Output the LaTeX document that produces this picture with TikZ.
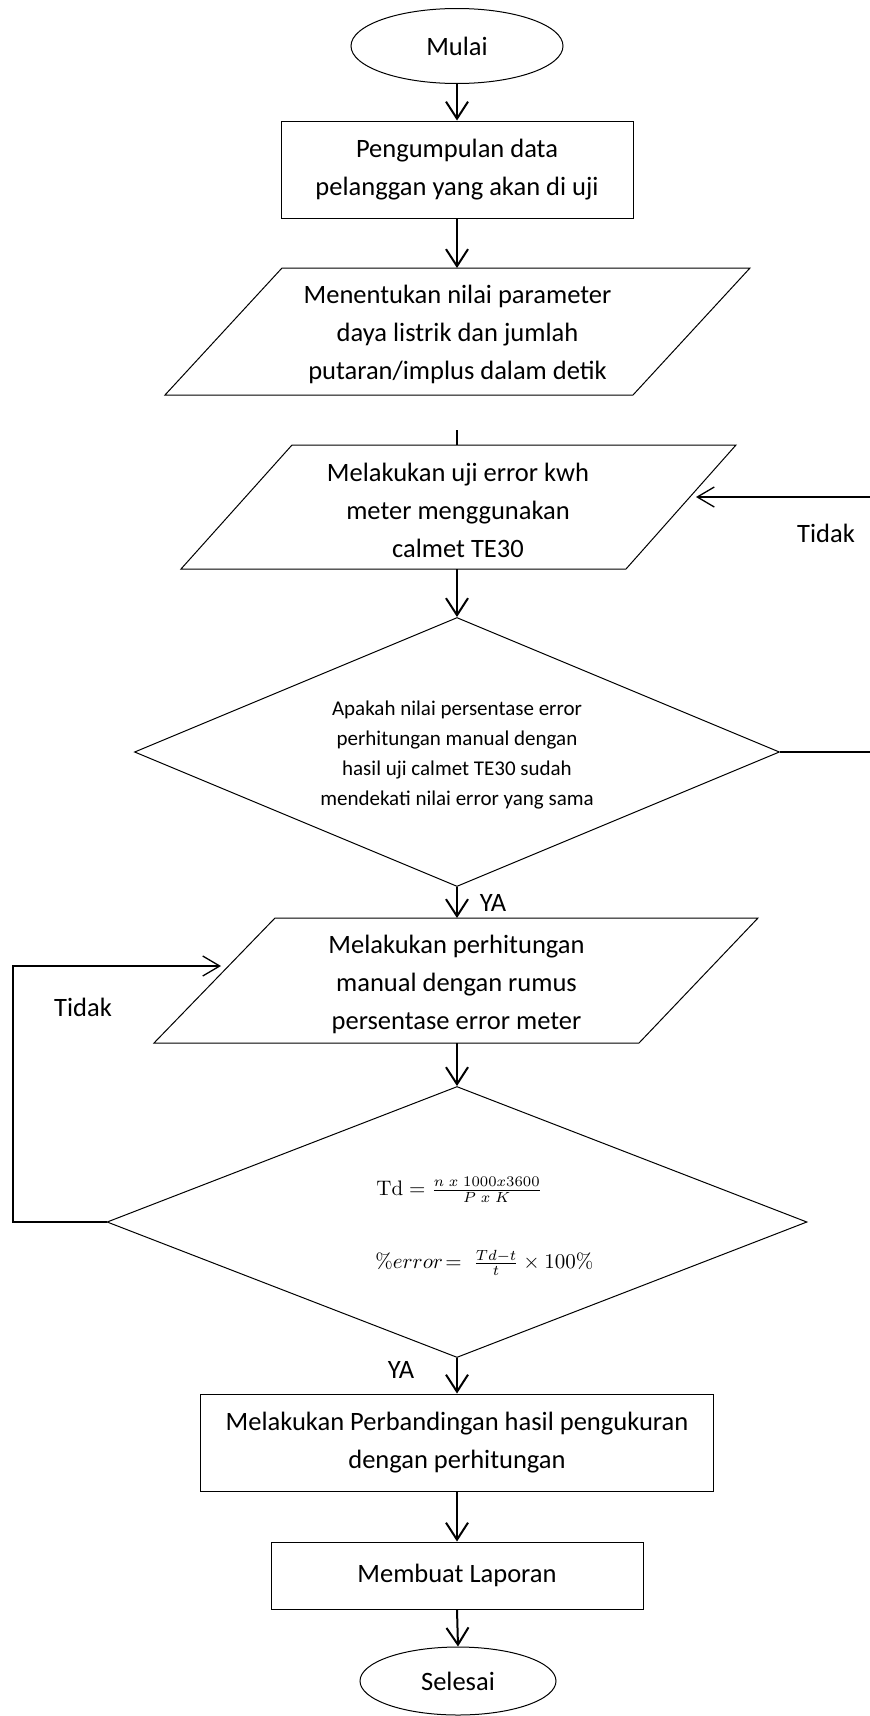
\documentclass[tikz,border=0pt]{standalone}
\usepackage[no-math]{fontspec}
\setmainfont{Carlito}
\usetikzlibrary{shapes.geometric,arrows.meta}
\begin{document}
\begin{tikzpicture}[x=1pt,y=-1pt,
  shapeline/.style={draw, line width=1pt},
  term/.style={shapeline, ellipse, inner sep=0pt, font=\fontsize{26.5}{38}\selectfont},
  procbox/.style={shapeline, rectangle, inner sep=0pt, align=center, font=\fontsize{26.5}{38}\selectfont},
  bodytext/.style={align=center, font=\fontsize{26.5}{38}\selectfont, inner sep=0pt},
  smalltext/.style={align=center, font=\fontsize{21}{30}\selectfont, inner sep=0pt},
  mathtext/.style={font=\fontsize{10}{12}\selectfont, inner sep=0pt, scale=2.1, transform shape},
  decision/.style={shapeline, diamond, inner sep=0pt},
  flow/.style={line width=2pt, -{Straight Barb[length=17pt,width=22pt]}},
  plainflow/.style={line width=2pt},
  loopline/.style={line width=1.3pt},
  looparrow/.style={line width=1.3pt, -{Straight Barb[length=17pt,width=20pt]}},
  lbl/.style={font=\fontsize{26.5}{32}\selectfont, inner sep=0pt}
]
\useasboundingbox (0,0) rectangle (870,1716);

% start
\node[term, minimum width=212pt, minimum height=75pt] (mulai) at (457,46) {Mulai};

% box 1
\node[procbox, minimum width=352pt, minimum height=97pt] (r1) at (457,169.5) {Pengumpulan data\\pelanggan yang akan di uji};

% parallelogram 1
\draw[shapeline] (282,268) -- (750,268) -- (633,395) -- (165,395) -- cycle;
\node[bodytext] (p1) at (457.5,334) {Menentukan nilai parameter\\daya listrik dan jumlah\\putaran/implus dalam detik};
\coordinate (p1t) at (457,268);
\coordinate (p1b) at (457,395);

% parallelogram 2
\draw[shapeline] (292,445) -- (736,445) -- (626,569) -- (181,569) -- cycle;
\node[bodytext] (p2) at (458,510) {Melakukan uji error kwh\\meter menggunakan\\calmet TE30};
\coordinate (p2t) at (457,445);
\coordinate (p2b) at (457,569);
\coordinate (stub) at (457,430);

% decision 1
\node[decision, minimum width=645pt, minimum height=269pt] (d1) at (457,752) {};
\node[smalltext] (d1t) at (457,755) {Apakah nilai persentase error\\perhitungan manual dengan\\hasil uji calmet TE30 sudah\\mendekati nilai error yang sama};

% parallelogram 3
\draw[shapeline] (275,918) -- (758,918) -- (639,1043) -- (154,1043) -- cycle;
\node[bodytext] (p3) at (456.5,984) {Melakukan perhitungan\\manual dengan rumus\\persentase error meter};
\coordinate (p3t) at (457,918);
\coordinate (p3b) at (457,1043);

% decision 2
\node[decision, minimum width=700pt, minimum height=271pt] (d2) at (457,1222) {};
\node[mathtext, anchor=west] (f1) at (376,1190) {$\mathrm{Td}=\frac{n\;x\;1000x3600}{P\;x\;K}$};
\node[mathtext, anchor=west] (f2) at (375,1263) {$\%error\!=\;\frac{Td-t}{t}\times100\%$};

% box 3
\node[procbox, minimum width=513pt, minimum height=97pt] (r3) at (457,1442.5) {Melakukan Perbandingan hasil pengukuran\\dengan perhitungan};

% box 4
\node[procbox, minimum width=372pt, minimum height=67pt] (r4) at (457,1575.5) {Membuat Laporan};

% end
\node[term, minimum width=196pt, minimum height=68pt] (selesai) at (458,1681) {Selesai};

% main flow
\draw[flow] (mulai.south) -- (r1.north);
\draw[flow] (r1.south) -- (p1t);
\draw[plainflow] (stub) -- (p2t);
\draw[flow] (p2b) -- (d1.north);
\draw[flow] (d1.south) -- (p3t);
\draw[flow] (p3b) -- (d2.north);
\draw[flow] (d2.south) -- (r3.north);
\draw[flow] (r3.south) -- (r4.north);
\draw[flow] (r4.south) -- (selesai.north);

% right loop (Tidak)
\coordinate (rbot) at (870,752);
\coordinate (rtop) at (870,497);
\coordinate (p2in) at (696,497);
\draw[loopline] (d1.east) -- (rbot);
\draw[looparrow] (rtop) -- (p2in);
\node[lbl] (tidak1) at (826,533) {Tidak};

% left loop (Tidak)
\coordinate (lb) at (13,1222);
\coordinate (lt) at (13,966);
\coordinate (p3in) at (221,966);
\draw[looparrow] (d2.west) -- (lb) -- (lt) -- (p3in);
\node[lbl] (tidak2) at (83,1007) {Tidak};

% YA labels
\node[lbl] (ya1) at (493,903) {YA};
\node[lbl] (ya2) at (401,1370) {YA};
\end{tikzpicture}
\end{document}
